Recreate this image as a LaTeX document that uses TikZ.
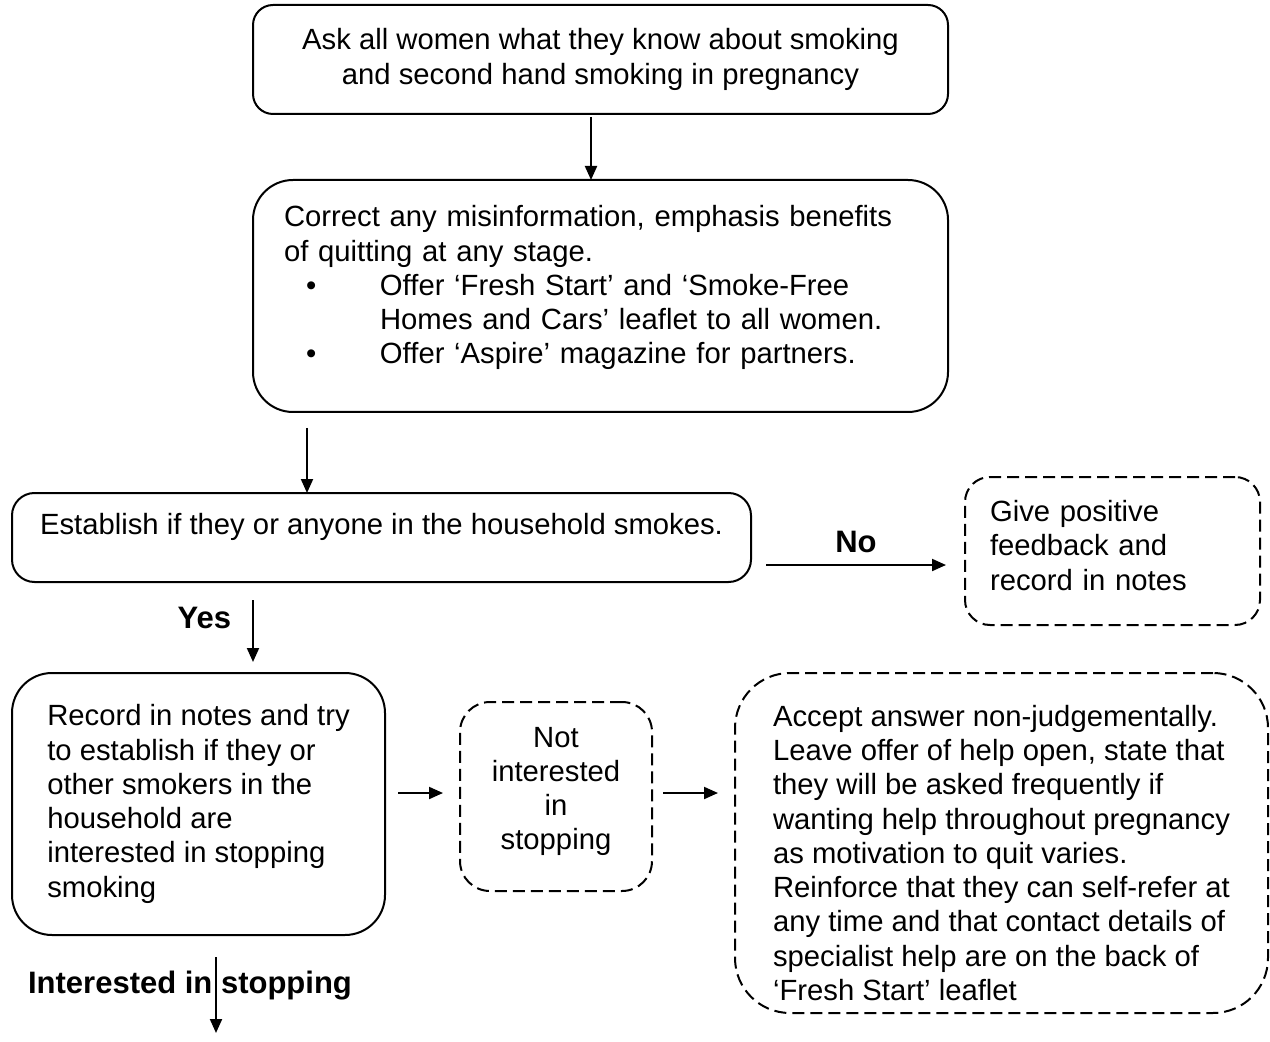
\documentclass[tikz,border=0pt]{standalone}
\usepackage{fontspec}
\setmainfont{Liberation Sans}
\usepackage{tikz}
\usetikzlibrary{positioning,arrows.meta}
\newcommand{\BUL}{\hspace*{8.8pt}\makebox[29.6pt][l]{\textbullet}}
\newcommand{\IND}{\hspace*{38.4pt}}
\newcommand{\UP}[1]{\rule[-#1]{0pt}{0pt}}
\newcommand{\DN}[1]{\rule{0pt}{#1}}
\tikzset{
  blk/.style  ={draw=black, line width=0.8pt, align=left, outer sep=0pt,
                font=\fontsize{11.7pt}{13.7pt}\selectfont, inner sep=0pt},
  dblk/.style ={blk, dash pattern=on 4.8pt off 2.4pt},
  ar/.style   ={-{Triangle[length=5.6pt,width=4.8pt]}, draw=black, line width=0.8pt},
  lbl/.style  ={font=\fontsize{12.4pt}{13.7pt}\selectfont\bfseries, inner sep=0pt},
}
\begin{document}
\begin{tikzpicture}
\useasboundingbox (0,0) rectangle (508pt,-416.8pt);
\node[blk,align=center,rounded corners=8pt,minimum width=278pt,minimum height=43.6pt] (ask) at (240.2pt,-23.8pt)
  {Ask all women what they know about smoking\\ and second hand smoking in pregnancy};
\node[blk,below=26.4pt of ask,rounded corners=16pt,minimum width=278pt,minimum height=92.8pt,
      text width=253.2pt,inner xsep=12.4pt] (correct)
  {Correct any misinformation, emphasis benefits\\ of quitting at any stage.\\
   \BUL Offer ‘Fresh Start’ and ‘Smoke-Free\\ \IND Homes and Cars’ leaflet to all women.\\
   \BUL Offer ‘Aspire’ magazine for partners.\UP{8.9pt}};
\node[blk,below right=32.4pt and -96.4pt of correct.south west,rounded corners=9pt,
      minimum width=295.6pt,minimum height=35.6pt,text depth=11pt] (establish)
  {Establish if they or anyone in the household smokes.};
\node[dblk,right=85.6pt of establish,yshift=-5.4pt,rounded corners=10pt,minimum width=118pt,
      minimum height=59.2pt,text width=98pt,inner xsep=10pt] (positive)
  {Give positive\\ feedback and\\ record in notes\UP{4.5pt}};
\node[blk,below right=36.4pt and 0pt of establish.south west,rounded corners=16pt,
      minimum width=149.2pt,minimum height=104.8pt] (record)
  {Record in notes and try\\ to establish if they or\\ other smokers in the\\ household are\\
   interested in stopping\\ smoking};
\node[dblk,right=30pt of record,yshift=3pt,align=center,rounded corners=12pt,
      minimum width=76.8pt,minimum height=75.6pt] (notint)
  {Not\\ interested\\ in\\ stopping\UP{6.5pt}};
\node[dblk,right=33.2pt of notint,yshift=-18.6pt,rounded corners=22pt,
      minimum width=213.2pt,minimum height=136pt] (accept)
  {\DN{16.4pt}Accept answer non-judgementally.\\ Leave offer of help open, state that\\
   they will be asked frequently if\\ wanting help throughout pregnancy\\
   as motivation to quit varies.\\ Reinforce that they can self-refer at\\
   any time and that contact details of\\ specialist help are on the back of\\
   ‘Fresh Start’ leaflet};

\coordinate (gap) at ([shift={(21.6pt,-6.4pt)}]correct.south west);
\coordinate (next) at ([shift={(7pt,-39.2pt)}]record.south);

\draw[ar] ([shift={(-3.8pt,-1.2pt)}]ask.south) -- ([xshift=-3.8pt]correct.north);
\draw[ar] (gap) -- (gap |- establish.north);
\draw[ar] ([shift={(6pt,-11pt)}]establish.east) -- ([shift={(-7.6pt,-5.6pt)}]positive.west)
   node[lbl,midway,above=4.5pt] {No};
\draw[ar] ([shift={(96.4pt,-7.2pt)}]establish.south west) -- ([shift={(96.4pt,4.4pt)}]record.north west)
   node[lbl,pos=0.29,left=8.4pt] {Yes};
\draw[ar] ([shift={(5.2pt,4.4pt)}]record.east) -- ([shift={(-6.8pt,1.4pt)}]notint.west);
\draw[ar] ([shift={(4.4pt,1.4pt)}]notint.east) -- ([shift={(-6.8pt,20pt)}]accept.west);
\draw[ar] ([shift={(7pt,-8.8pt)}]record.south) -- (next)
   node[lbl,pos=0.38,xshift=-10.4pt] {Interested in stopping};
\end{tikzpicture}
\end{document}
